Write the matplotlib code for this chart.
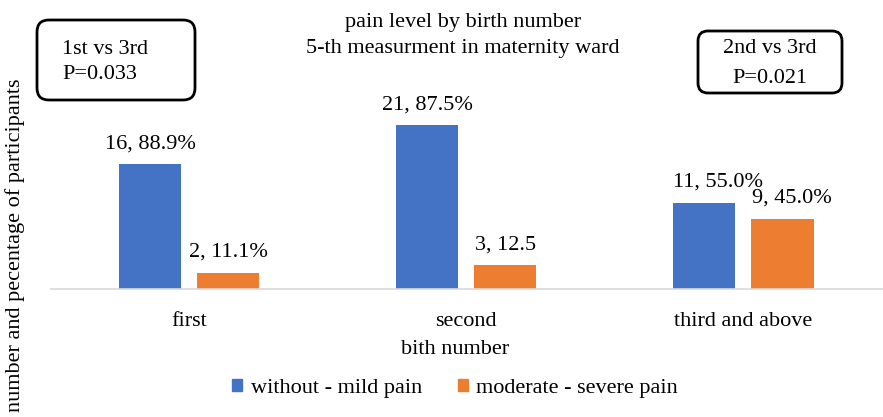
import matplotlib
matplotlib.use("Agg")
import matplotlib.pyplot as plt
from matplotlib.patches import Patch, FancyBboxPatch

plt.rcParams['font.family'] = ['Liberation Serif', 'DejaVu Serif']

categories = ['first', 'second', 'third and above']
series_names = ['without - mild pain', 'moderate - severe pain']
mild_counts = [16, 21, 11]
severe_counts = [2, 3, 9]
mild_labels = ['16, 88.9%', '21, 87.5%', '11, 55.0%']
severe_labels = ['2, 11.1%', '3, 12.5', '9, 45.0%']
colors = ['#4472C4', '#ED7D31']

W, H = 883, 417
FS = 16
fig = plt.figure(figsize=(W / 100, H / 100), dpi=100)
ax = fig.add_axes([50.5 / W, 128.5 / H, 831.5 / W, 248.5 / H])

x = list(range(len(categories)))
bw = 0.224
off = 0.141
b1 = ax.bar([i - off for i in x], mild_counts, bw, color=colors[0])
b2 = ax.bar([i + off for i in x], severe_counts, bw, color=colors[1])

# small horizontal nudges (points) so the labels of the last group don't collide
nudge = {(0, 2): 10, (1, 2): 7}
for k, (bars, labels) in enumerate(((b1, mild_labels), (b2, severe_labels))):
    for j, (r, lab) in enumerate(zip(bars, labels)):
        ax.annotate(lab, (r.get_x() + r.get_width() / 2, r.get_height()),
                    xytext=(nudge.get((k, j), 0), 8), textcoords='offset points',
                    ha='center', va='bottom', fontsize=FS)

ax.set_xlim(-0.5, 2.5)
ax.set_ylim(0, 32)
ax.set_xticks(x)
ax.set_xticklabels(categories, fontsize=FS)
ax.tick_params(axis='x', length=0, pad=17)
ax.set_yticks([])
for s in ('top', 'right', 'left'):
    ax.spines[s].set_visible(False)
ax.spines['bottom'].set_color('#D9D9D9')
ax.spines['bottom'].set_linewidth(1.2)

fig.text(463 / W, 1 - 23 / H, 'pain level by birth number', ha='center', va='center', fontsize=FS)
fig.text(463 / W, 1 - 48 / H, '5-th measurment in maternity ward', ha='center', va='center', fontsize=FS)
fig.text(455 / W, 1 - 350 / H, 'bith number', ha='center', va='center', fontsize=FS)
fig.text(15 / W, 1 - 245 / H, 'number and pecentage of participants', rotation=90,
         ha='center', va='center', fontsize=FS)

handles = [Patch(color=c) for c in colors]
fig.legend(handles, series_names, loc='center', bbox_to_anchor=(455 / W, 1 - 388 / H),
           ncol=2, frameon=False, prop={'family': 'Liberation Serif', 'size': FS},
           handlelength=0.45, handleheight=0.45, handletextpad=0.4, columnspacing=1.6)

# overlay in pixel coordinates for the p-value boxes
ov = fig.add_axes([0, 0, 1, 1], zorder=5)
ov.set_xlim(0, W)
ov.set_ylim(H, 0)
ov.axis('off')
ov.patch.set_alpha(0)
ov.add_patch(FancyBboxPatch((37, 20), 158, 80, boxstyle='round,pad=0,rounding_size=12',
                            fill=False, ec='black', lw=2))
ov.text(62, 49, '1st vs 3rd', ha='left', va='center', fontsize=FS)
ov.text(62, 74, 'P=0.033', ha='left', va='center', fontsize=FS)
ov.add_patch(FancyBboxPatch((698, 31), 144, 62, boxstyle='round,pad=0,rounding_size=10',
                            fill=False, ec='black', lw=2))
ov.text(770, 48, '2nd vs 3rd', ha='center', va='center', fontsize=FS)
ov.text(770, 78, 'P=0.021', ha='center', va='center', fontsize=FS)

fig.savefig('out.png', dpi=100)
